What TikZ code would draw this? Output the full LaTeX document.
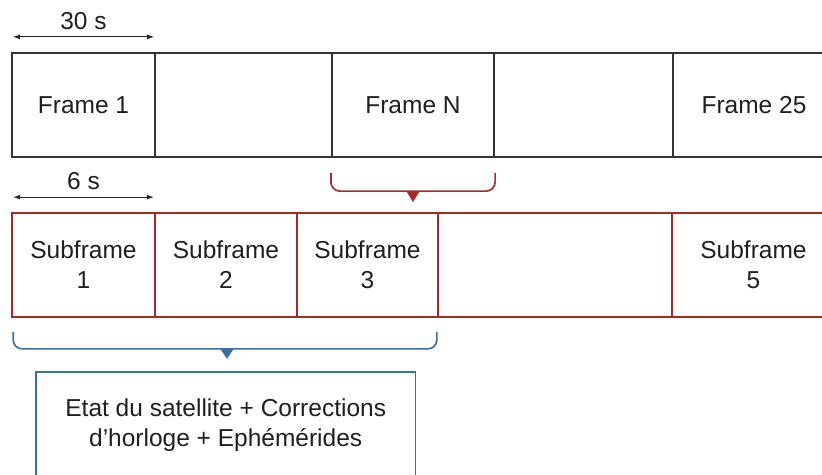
\documentclass[tikz,border=0pt]{standalone}
\usepackage{fontspec}
\setmainfont{Liberation Sans}
\usetikzlibrary{arrows.meta,calc}
\definecolor{fred}{HTML}{A8282B}
\definecolor{fblue}{HTML}{3A6EA5}
\definecolor{fgray}{HTML}{333333}
\begin{document}
\begin{tikzpicture}[x=1pt,y=-1pt,
  txt/.style={font=\fontsize{24.5}{30}\selectfont, text=black!88, align=center},
  cell/.style={txt, draw=fgray, line width=2.2pt, minimum height=104pt, inner sep=0pt},
  subcell/.style={cell, draw=fred, line width=1.7pt},
  infobox/.style={txt, minimum width=379pt, minimum height=106pt, inner sep=0pt, anchor=north west},
  boxline/.style={draw=fblue, line width=1.7pt},
  dimarrow/.style={line width=1pt, black!85, {Latex[length=7pt,width=5pt]}-{Latex[length=7pt,width=5pt]}},
  bracered/.style={fred, line width=1.7pt, rounded corners=9pt},
  braceblue/.style={fblue, line width=1.7pt, rounded corners=9pt},
  tipred/.style={fred, line width=1pt, -{Triangle[width=13pt,length=11pt]}},
  tipblue/.style={fblue, line width=1pt, -{Triangle[width=13pt,length=10pt]}}
]
\useasboundingbox (0,0) rectangle (822,474);
\clip (0,0) rectangle (822,474);

% top row of frames
\node[cell, minimum width=143pt] (f1) at (83.5,105) {Frame 1};
\node[cell, minimum width=177pt] (f2) at (243.5,105) {};
\node[cell, minimum width=162pt] (fN) at (413,105) {Frame N};
\node[cell, minimum width=179pt] (f4) at (583.5,105) {};
\node[cell, minimum width=162pt] (f25) at (754,105) {Frame 25};

% subframe row
\node[subcell, minimum width=143pt] (s1) at (83.5,265) {Subframe\\1};
\node[subcell, minimum width=142pt] (s2) at (226,265) {Subframe\\2};
\node[subcell, minimum width=141pt] (s3) at (367.5,265) {Subframe\\3};
\node[subcell, minimum width=234pt] (s4) at (555,265) {};
\node[subcell, minimum width=163pt] (s5) at (753.5,265) {Subframe\\5};

% duration arrows
\coordinate (d30a) at ($(f1.north west)+(2,-15)$);
\coordinate (d30b) at ($(f1.north east)+(-2,-15)$);
\draw[dimarrow] (d30a) -- (d30b);
\node[txt] (l30) at ($(f1.north)+(0,-31)$) {30 s};
\coordinate (d6a) at ($(s1.north west)+(2,-15)$);
\coordinate (d6b) at ($(s1.north east)+(-2,-15)$);
\draw[dimarrow] (d6a) -- (d6b);
\node[txt] (l6) at ($(s1.north)+(0,-31)$) {6 s};

% red brace under Frame N
\coordinate (rbl) at ($(fN.south west)+(0,15)$);
\coordinate (rbr) at ($(fN.south east)+(0,15)$);
\coordinate (rbm) at ($(fN.south)+(0,33)$);
\draw[bracered] (rbl) -- (rbl |- rbm) -- (rbr |- rbm) -- (rbr);
\coordinate (rtip) at ($(rbm)+(0,11)$);
\draw[tipred] (rbm) -- (rtip);

% info box
\node[infobox] (info) at (36,372) {Etat du satellite + Corrections\\d’horloge + Ephémérides};
\draw[boxline] ($(info.south west)+(0,40)$) rectangle (info.north east);

% blue brace under subframes 1-3
\coordinate (bbl) at ($(s1.south west)+(2,14)$);
\coordinate (bbr) at ($(s3.south east)+(-2,14)$);
\coordinate (bbm) at ($(s1.south west)!0.5!(s3.south east)+(2,31)$);
\draw[braceblue] (bbl) -- (bbl |- bbm) -- (bbr |- bbm) -- (bbr);
\coordinate (btip) at ($(bbm)+(0,10)$);
\draw[tipblue] (bbm) -- (btip);
\end{tikzpicture}
\end{document}
